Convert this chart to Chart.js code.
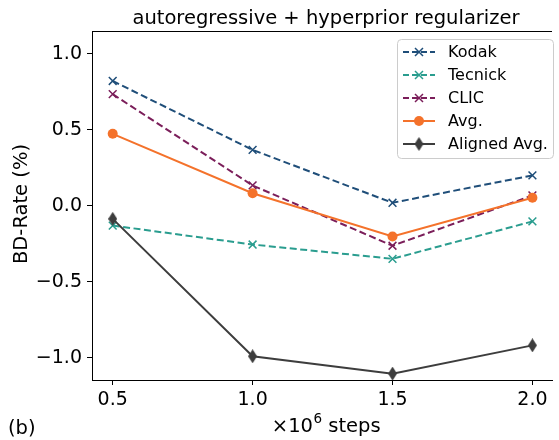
<!DOCTYPE html>
<html>
<head>
<meta charset="utf-8">
<script src="https://cdn.jsdelivr.net/npm/chart.js@4.4.1/dist/chart.umd.min.js"></script>
<style>
  html, body { margin: 0; padding: 0; background: #fff; }
  #wrap { width: 559px; height: 440px; }
</style>
</head>
<body>
<div id="wrap"><canvas id="myChart" width="559" height="440"></canvas></div>
<script>
// datos
const steps = [0.5, 1.0, 1.5, 2.0];
const kodak = [0.822, 0.368, 0.020, 0.200];
const tecnick = [-0.130, -0.255, -0.349, -0.103];
const clic = [0.735, 0.134, -0.263, 0.068];
const avg = [0.474, 0.083, -0.202, 0.053];
const alignedAvg = [-0.086, -0.991, -1.105, -0.919];
const yTicks = [-1.0, -0.5, 0.0, 0.5, 1.0];
const xTicks = [0.5, 1.0, 1.5, 2.0];

const FONT = "'DejaVu Sans', sans-serif";

// diamante delgado tipo matplotlib 'd'
function thinDiamond(color, w, h) {
    const c = document.createElement('canvas');
    c.width = w; c.height = h;
    const g = c.getContext('2d');
    g.fillStyle = color;
    g.beginPath();
    g.moveTo(w / 2, 0);
    g.lineTo(w, h / 2);
    g.lineTo(w / 2, h);
    g.lineTo(0, h / 2);
    g.closePath();
    g.fill();
    return c;
}

const toPts = (arr) => steps.map((s, i) => ({ x: s, y: arr[i] }));

const series = [
    { label: 'Kodak', data: kodak, color: '#1f4e79', dash: [7, 3.5], marker: 'crossRot' },
    { label: 'Tecnick', data: tecnick, color: '#2a9d8f', dash: [7, 3.5], marker: 'crossRot' },
    { label: 'CLIC', data: clic, color: '#7b1e5a', dash: [7, 3.5], marker: 'crossRot' },
    { label: 'Avg.', data: avg, color: '#f4722b', dash: [], marker: 'circle' },
    { label: 'Aligned Avg.', data: alignedAvg, color: '#3d3d3d', dash: [], marker: 'diamond' }
];

const datasets = series.map((s, i) => ({
    label: s.label,
    data: toPts(s.data),
    borderColor: s.color,
    backgroundColor: s.color,
    borderWidth: 2,
    borderDash: s.dash,
    pointStyle: s.marker === 'diamond' ? thinDiamond(s.color, 9, 14) : s.marker,
    pointRadius: s.marker === 'circle' ? 5 : 5.5,
    pointBorderWidth: s.marker === 'crossRot' ? 1.5 : 0,
    pointBorderColor: s.color,
    pointBackgroundColor: s.color,
    order: series.length - i,
    tension: 0
}));

// textos, borde superior y leyenda
const extras = {
    id: 'extras',
    afterDraw(chart) {
        const ctx = chart.ctx;
        const a = chart.chartArea;
        ctx.save();
        // borde superior
        ctx.strokeStyle = '#000';
        ctx.lineWidth = 1;
        ctx.beginPath();
        ctx.moveTo(a.left, a.top + 0.5);
        ctx.lineTo(a.right, a.top + 0.5);
        ctx.stroke();

        ctx.fillStyle = '#000';
        ctx.textBaseline = 'alphabetic';
        ctx.textAlign = 'center';
        ctx.font = '19.5px ' + FONT;
        ctx.fillText('autoregressive + hyperprior regularizer', 326, 24);

        // etiqueta x con superindice
        const base = '\u00d710';
        const rest = ' steps';
        ctx.font = '19.5px ' + FONT;
        const wBase = ctx.measureText(base).width;
        const wRest = ctx.measureText(rest).width;
        ctx.font = '13.5px ' + FONT;
        const wSup = ctx.measureText('6').width;
        let x0 = 326 - (wBase + wSup + wRest) / 2;
        ctx.textAlign = 'left';
        ctx.font = '19.5px ' + FONT;
        ctx.fillText(base, x0, 432);
        ctx.font = '13.5px ' + FONT;
        ctx.fillText('6', x0 + wBase + 0.5, 423);
        ctx.font = '19.5px ' + FONT;
        ctx.fillText(rest, x0 + wBase + wSup + 0.5, 432);

        ctx.fillText('(b)', 8, 434);

        ctx.save();
        ctx.translate(27, 204);
        ctx.rotate(-Math.PI / 2);
        ctx.textAlign = 'center';
        ctx.fillText('BD-Rate (%)', 0, 0);
        ctx.restore();

        // leyenda
        const bx = 397, by = 39, bw = 156, bh = 119;
        ctx.fillStyle = 'rgba(255,255,255,0.85)';
        ctx.strokeStyle = '#cccccc';
        ctx.lineWidth = 1;
        ctx.beginPath();
        ctx.roundRect(bx + 0.5, by + 0.5, bw, bh, 4);
        ctx.fill();
        ctx.stroke();

        chart.data.datasets.forEach((ds, i) => {
            const yy = 52 + i * 23;
            ctx.strokeStyle = ds.borderColor;
            ctx.lineWidth = 2;
            ctx.setLineDash(ds.borderDash.length ? [6, 3] : []);
            ctx.beginPath();
            ctx.moveTo(403, yy);
            ctx.lineTo(435, yy);
            ctx.stroke();
            ctx.setLineDash([]);
            const style = ds.pointStyle;
            if (style === 'crossRot') {
                ctx.lineWidth = 1.5;
                ctx.beginPath();
                ctx.moveTo(415, yy - 4); ctx.lineTo(423, yy + 4);
                ctx.moveTo(423, yy - 4); ctx.lineTo(415, yy + 4);
                ctx.stroke();
            } else if (style === 'circle') {
                ctx.fillStyle = ds.backgroundColor;
                ctx.beginPath();
                ctx.arc(419, yy, 5, 0, Math.PI * 2);
                ctx.fill();
            } else {
                ctx.drawImage(style, 419 - style.width / 2, yy - style.height / 2);
            }
            ctx.fillStyle = '#000';
            ctx.font = '16px ' + FONT;
            ctx.textAlign = 'left';
            ctx.textBaseline = 'middle';
            ctx.fillText(ds.label, 448, yy + 1);
        });
        ctx.restore();
    }
};

const ctx = document.getElementById('myChart');
new Chart(ctx, {
    type: 'line',
    data: { datasets: datasets },
    options: {
        responsive: false,
        animation: false,
        layout: { padding: { top: 31, right: 0, left: 0, bottom: 0 } },
        plugins: {
            legend: { display: false },
            title: { display: false },
            tooltip: { enabled: false }
        },
        scales: {
            x: {
                type: 'linear',
                min: 0.426,
                max: 2.07,
                afterBuildTicks: (s) => { s.ticks = xTicks.map(v => ({ value: v })); },
                afterFit: (s) => { s.height = 60; },
                border: { display: true, color: '#000', width: 1 },
                grid: { drawOnChartArea: false, drawTicks: true, tickLength: 5, tickColor: '#000' },
                ticks: {
                    color: '#000',
                    font: { family: FONT, size: 19 },
                    padding: 4,
                    maxRotation: 0,
                    callback: (v) => v.toFixed(1)
                }
            },
            y: {
                type: 'linear',
                min: -1.147,
                max: 1.151,
                afterBuildTicks: (s) => { s.ticks = yTicks.map(v => ({ value: v })); },
                afterFit: (s) => { s.width = 92; },
                border: { display: true, color: '#000', width: 1 },
                grid: { drawOnChartArea: false, drawTicks: true, tickLength: 5, tickColor: '#000' },
                ticks: {
                    color: '#000',
                    font: { family: FONT, size: 19 },
                    padding: 5,
                    callback: (v) => (v < 0 ? '\u2212' : '') + Math.abs(v).toFixed(1)
                }
            }
        }
    },
    plugins: [extras]
});
</script>
</body>
</html>
